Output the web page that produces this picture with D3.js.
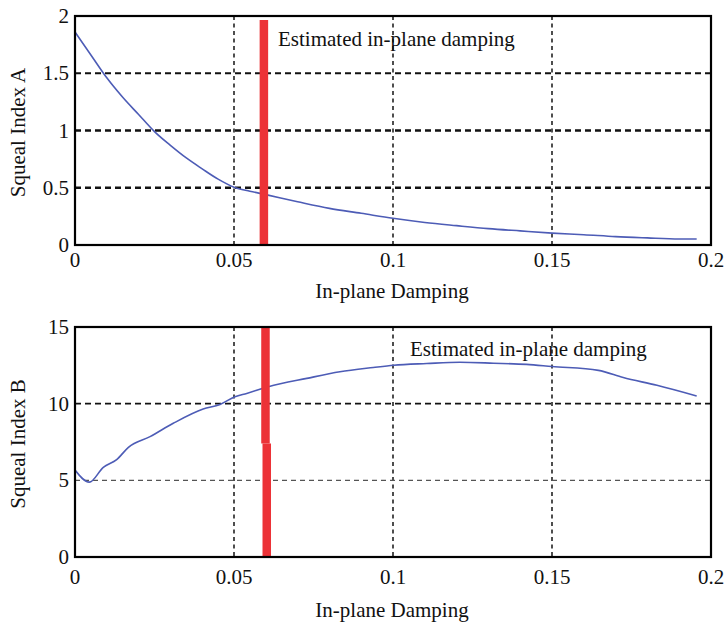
<!DOCTYPE html>
<html>
<head>
<meta charset="utf-8">
<script src="https://cdn.jsdelivr.net/npm/d3@7"></script>
<style>
	body { margin: 0; background: #fff; }
	svg { display: block; }
	text { font-family: "Liberation Serif", "Times New Roman", "DejaVu Serif", serif; fill: #111; }
</style>
</head>
<body>
<div id="viz"><svg width="724" height="624"></svg></div>
<script>
// damping values (x) and squeal indices
const dampA = [0, 0.005, 0.01, 0.015, 0.02, 0.025, 0.03, 0.035, 0.04, 0.045, 0.05, 0.055, 0.06, 0.07, 0.08, 0.09, 0.1, 0.11, 0.12, 0.13, 0.14, 0.15, 0.16, 0.17, 0.18, 0.19, 0.1955];
const indexA = [1.86, 1.66, 1.46, 1.29, 1.14, 0.99, 0.87, 0.76, 0.665, 0.575, 0.505, 0.47, 0.44, 0.378, 0.32, 0.277, 0.233, 0.197, 0.169, 0.143, 0.123, 0.104, 0.09, 0.073, 0.062, 0.053, 0.052];

const dampB = [0, 0.0045, 0.0089, 0.0131, 0.0168, 0.0236, 0.0309, 0.0403, 0.0456, 0.0503, 0.054, 0.0608, 0.0729, 0.0833, 0.0938, 0.1002, 0.1106, 0.121, 0.1316, 0.142, 0.15, 0.1646, 0.1724, 0.183, 0.1955];
const indexB = [5.68, 4.88, 5.85, 6.35, 7.15, 7.85, 8.72, 9.65, 9.95, 10.45, 10.67, 11.1, 11.65, 12.08, 12.36, 12.51, 12.62, 12.7, 12.64, 12.56, 12.42, 12.17, 11.7, 11.2, 10.5];

const xTicks = [0, 0.05, 0.1, 0.15, 0.2];
const xTickLabels = ['0', '0.05', '0.1', '0.15', '0.2'];
const yTicksA = [0, 0.5, 1, 1.5, 2];
const yTickLabelsA = ['0', '0.5', '1', '1.5', '2'];
const yTicksB = [0, 5, 10, 15];
const yTickLabelsB = ['0', '5', '10', '15'];

// estimated damping marker (x, from, to)
const markerA = [[0.0594, 1.965, 0]];
const markerB = [[0.0599, 15, 7.4], [0.0603, 7.4, 0]];

const annotation = 'Estimated in-plane damping';
const xTitle = 'In-plane Damping';

const svg = d3.select('#viz svg');

function drawPanel (cfg) {
	const g = svg.append('g');
	const x = d3.scaleLinear().domain([0, 0.2]).range([cfg.left, cfg.right]);
	const y = d3.scaleLinear().domain(cfg.yDomain).range([cfg.bottom, cfg.top]);

	// grid
	g.append('g').selectAll('line')
		.data(xTicks.slice(1, -1))
		.join('line')
			.attr('x1', d => x(d)).attr('x2', d => x(d))
			.attr('y1', cfg.top).attr('y2', cfg.bottom)
			.attr('stroke', '#222')
			.attr('stroke-width', 1.6)
			.attr('stroke-dasharray', '4,3.5');

	g.append('g').selectAll('line')
		.data(cfg.hGrid)
		.join('line')
			.attr('x1', cfg.left).attr('x2', cfg.right)
			.attr('y1', d => y(d.v)).attr('y2', d => y(d.v))
			.attr('stroke', d => d.c)
			.attr('stroke-width', d => d.w)
			.attr('stroke-dasharray', d => d.dash);

	// curve
	const line = d3.line()
		.x(d => x(d[0]))
		.y(d => y(d[1]))
		.curve(d3.curveMonotoneX);
	g.append('path')
		.datum(cfg.xs.map((v, i) => [v, cfg.ys[i]]))
		.attr('d', line)
		.attr('fill', 'none')
		.attr('stroke', '#4d5cb6')
		.attr('stroke-width', 1.6);

	// red marker
	g.append('g').selectAll('line')
		.data(cfg.marker)
		.join('line')
			.attr('x1', d => x(d[0])).attr('x2', d => x(d[0]))
			.attr('y1', d => y(d[1])).attr('y2', d => y(d[2]))
			.attr('stroke', '#ec3237')
			.attr('stroke-width', 8.5);

	// frame
	g.append('rect')
		.attr('x', cfg.left).attr('y', cfg.top)
		.attr('width', cfg.right - cfg.left)
		.attr('height', cfg.bottom - cfg.top)
		.attr('fill', 'none')
		.attr('stroke', '#000')
		.attr('stroke-width', 2.2);

	// tick labels
	g.append('g').selectAll('text')
		.data(xTicks)
		.join('text')
			.attr('x', d => x(d))
			.attr('y', cfg.bottom + cfg.xTickGap)
			.attr('text-anchor', 'middle')
			.style('font-size', '21px')
			.text((d, i) => xTickLabels[i]);

	g.append('g').selectAll('text')
		.data(cfg.yTicks)
		.join('text')
			.attr('x', cfg.left - 6)
			.attr('y', d => y(d))
			.attr('dy', '0.34em')
			.attr('text-anchor', 'end')
			.style('font-size', '21px')
			.text((d, i) => cfg.yTickLabels[i]);

	// titles
	g.append('text')
		.attr('x', 392)
		.attr('y', cfg.xTitleY)
		.attr('text-anchor', 'middle')
		.style('font-size', '21px')
		.text(xTitle);

	g.append('text')
		.attr('transform', `translate(25,${(cfg.top + cfg.bottom) / 2 + 2}) rotate(-90)`)
		.attr('text-anchor', 'middle')
		.style('font-size', '21px')
		.text(cfg.yTitle);

	g.append('text')
		.attr('x', cfg.noteX)
		.attr('y', cfg.noteY)
		.style('font-size', '21px')
		.text(annotation);
}

drawPanel({
	left: 75, right: 711, top: 16, bottom: 245,
	yDomain: [0, 2],
	xs: dampA, ys: indexA,
	yTicks: yTicksA, yTickLabels: yTickLabelsA,
	hGrid: [
		{ v: 0.5, c: '#111', w: 2.4, dash: '6,4' },
		{ v: 1, c: '#111', w: 2.6, dash: '6,4' },
		{ v: 1.5, c: '#111', w: 2.2, dash: '6,4' }
	],
	marker: markerA,
	xTickGap: 22, xTitleY: 298,
	yTitle: 'Squeal Index A',
	noteX: 278, noteY: 46
});

drawPanel({
	left: 75, right: 711, top: 327, bottom: 557,
	yDomain: [0, 15],
	xs: dampB, ys: indexB,
	yTicks: yTicksB, yTickLabels: yTickLabelsB,
	hGrid: [
		{ v: 5, c: '#555', w: 1.3, dash: '5,4' },
		{ v: 10, c: '#111', w: 1.9, dash: '6,4' }
	],
	marker: markerB,
	xTickGap: 27, xTitleY: 617,
	yTitle: 'Squeal Index B',
	noteX: 410, noteY: 356
});
</script>
</body>
</html>
